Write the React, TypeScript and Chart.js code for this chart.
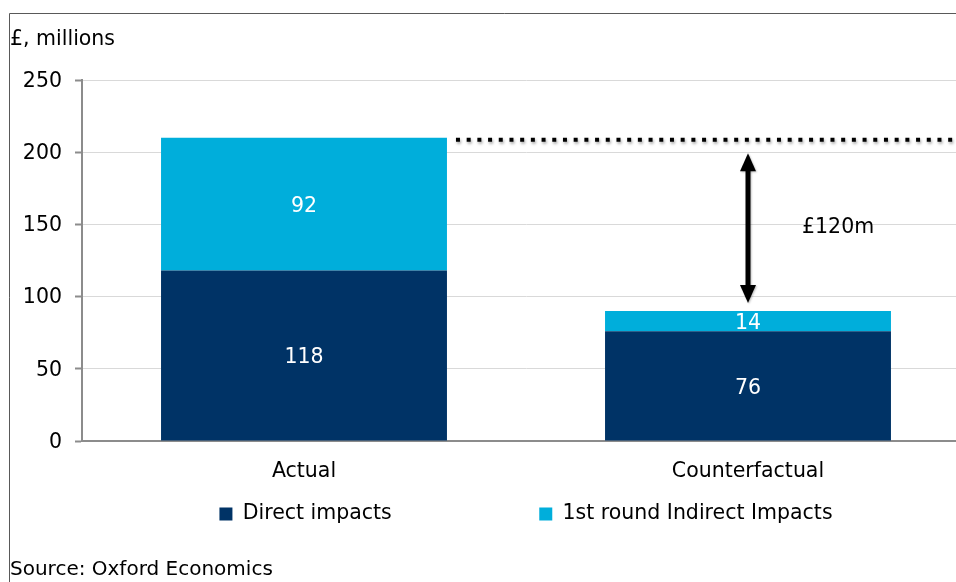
import React, { useEffect, useRef } from "react";
import { Chart, registerables } from "chart.js";

Chart.register(...registerables);

// ---- data ----
const categories = ["Actual", "Counterfactual"];
const directImpacts = [118, 76];
const indirectImpacts = [92, 14];
const seriesNames = ["Direct impacts", "1st round Indirect Impacts"];
const yTickValues = [0, 50, 100, 150, 200, 250];
const unitLabel = "£, millions";
const sourceText = "Source: Oxford Economics";

// ---- style ----
const FONT = "'DejaVu Sans', 'Liberation Sans', Arial, sans-serif";
const FS = 20.5;
const DARK = "#003366";
const LIGHT = "#00AEDB";
const AXIS = "#8C8C8C";
const GRID = "#D9D9D9";
const CW = 1000;
const CH = 582;

const framePlugin = {
  id: "frame",
  beforeDraw(chart: any) {
    const ctx = chart.ctx;
    ctx.save();
    ctx.fillStyle = "#ffffff";
    ctx.fillRect(0, 0, chart.width, chart.height);
    ctx.strokeStyle = "#595959";
    ctx.lineWidth = 1;
    ctx.beginPath();
    ctx.moveTo(9.5, chart.height);
    ctx.lineTo(9.5, 13.5);
    ctx.lineTo(chart.width, 13.5);
    ctx.stroke();
    ctx.restore();
  },
};

const barLabelPlugin = {
  id: "barLabels",
  afterDatasetsDraw(chart: any) {
    const ctx = chart.ctx;
    ctx.save();
    ctx.fillStyle = "#ffffff";
    ctx.font = `${FS}px ${FONT}`;
    ctx.textAlign = "center";
    ctx.textBaseline = "middle";
    chart.data.datasets.forEach((ds: any, di: number) => {
      const meta = chart.getDatasetMeta(di);
      meta.data.forEach((bar: any, i: number) => {
        const p = bar.getProps(["x", "y", "base"], true);
        ctx.fillText(String(ds.data[i]), p.x, (p.y + p.base) / 2 + 2.5);
      });
    });
    ctx.restore();
  },
};

const gapPlugin = {
  id: "gapAnnotation",
  afterDatasetsDraw(chart: any) {
    const ctx = chart.ctx;
    const ys = chart.scales.y;
    const top = chart.getDatasetMeta(1).data;
    const actualBar = top[0];
    const cfBar = top[1];
    const actualTotal = directImpacts[0] + indirectImpacts[0];
    const cfTotal = directImpacts[1] + indirectImpacts[1];
    const yLine = ys.getPixelForValue(actualTotal) + 2;

    ctx.save();
    // dotted reference line with soft shadow
    ctx.shadowColor = "rgba(0,0,0,0.35)";
    ctx.shadowBlur = 3;
    ctx.shadowOffsetX = 1;
    ctx.shadowOffsetY = 2;
    ctx.strokeStyle = "#000000";
    ctx.lineWidth = 4;
    ctx.setLineDash([4, 6.7]);
    ctx.beginPath();
    ctx.moveTo(actualBar.x + actualBar.width / 2 + 9, yLine);
    ctx.lineTo(chart.chartArea.right, yLine);
    ctx.stroke();
    ctx.setLineDash([]);

    // double-headed arrow
    const ax = cfBar.x;
    const tipTop = yLine + 13.5;
    const tipBot = ys.getPixelForValue(cfTotal) - 8;
    const headLen = 18;
    const headHalf = 8;
    ctx.shadowBlur = 2;
    ctx.shadowOffsetX = 1;
    ctx.shadowOffsetY = 1;
    ctx.shadowColor = "rgba(0,0,0,0.25)";
    ctx.lineWidth = 5;
    ctx.beginPath();
    ctx.moveTo(ax, tipTop + headLen - 2);
    ctx.lineTo(ax, tipBot - headLen + 2);
    ctx.stroke();
    ctx.fillStyle = "#000000";
    ctx.beginPath();
    ctx.moveTo(ax, tipTop);
    ctx.lineTo(ax + headHalf, tipTop + headLen);
    ctx.lineTo(ax - headHalf, tipTop + headLen);
    ctx.closePath();
    ctx.fill();
    ctx.beginPath();
    ctx.moveTo(ax, tipBot);
    ctx.lineTo(ax + headHalf, tipBot - headLen);
    ctx.lineTo(ax - headHalf, tipBot - headLen);
    ctx.closePath();
    ctx.fill();

    // gap label
    ctx.shadowColor = "rgba(0,0,0,0)";
    ctx.font = `${FS}px ${FONT}`;
    ctx.textAlign = "left";
    ctx.textBaseline = "middle";
    ctx.fillText(`£${actualTotal - cfTotal}m`, ax + 54, (tipTop + tipBot) / 2);
    ctx.restore();
  },
};

export default function App() {
  const ref = useRef<HTMLCanvasElement>(null);

  useEffect(() => {
    if (!ref.current) return;
    const chart = new Chart(ref.current, {
      type: "bar",
      data: {
        labels: categories,
        datasets: [
          { label: seriesNames[0], data: directImpacts, backgroundColor: DARK, borderWidth: 0 },
          { label: seriesNames[1], data: indirectImpacts, backgroundColor: LIGHT, borderWidth: 0 },
        ],
      },
      options: {
        responsive: false,
        animation: false,
        devicePixelRatio: 1,
        layout: { padding: { left: 10, right: 30, top: 0, bottom: 0 } },
        datasets: { bar: { categoryPercentage: 1, barPercentage: 0.644 } },
        scales: {
          x: {
            stacked: true,
            grid: { display: false, drawTicks: false },
            border: { display: true, color: AXIS, width: 2 },
            ticks: { color: "#000", font: { family: FONT, size: FS }, padding: 18.4 },
            afterFit: (s: any) => {
              s.height = 43;
            },
          },
          y: {
            stacked: true,
            min: 0,
            max: 250,
            afterBuildTicks: (s: any) => {
              s.ticks = yTickValues.map((v) => ({ value: v }));
            },
            ticks: { color: "#000", font: { family: FONT, size: FS }, padding: 13, labelOffset: 1.5 },
            grid: {
              color: (c: any) => (c.tick && c.tick.value === 0 ? AXIS : GRID),
              lineWidth: 1,
              tickLength: 7,
              tickColor: AXIS,
              tickWidth: 2,
            },
            border: { color: AXIS, width: 2 },
            afterFit: (s: any) => {
              s.width = 72;
            },
          },
        },
        plugins: {
          title: {
            display: true,
            text: unitLabel,
            align: "start",
            position: "top",
            color: "#000",
            font: { family: FONT, size: FS, weight: "normal" },
            padding: { top: 27.2, bottom: 28.2 },
          },
          subtitle: {
            display: true,
            text: sourceText,
            align: "start",
            position: "bottom",
            color: "#000",
            font: { family: FONT, size: 20, weight: "normal" },
            padding: { top: 23.75, bottom: 0 },
          },
          legend: {
            display: true,
            position: "bottom",
            fullSize: false,
            labels: {
              boxWidth: 13,
              boxHeight: 13,
              padding: 19.75,
              color: "#000",
              font: { family: FONT, size: FS },
              generateLabels: (c: any) => {
                const items = (Chart.defaults as any).plugins.legend.labels.generateLabels(c);
                items.forEach((it: any) => {
                  it.lineWidth = 0;
                  it.strokeStyle = "rgba(0,0,0,0)";
                });
                // invisible gap between the two legend entries
                const spacer = {
                  text: " ".repeat(13),
                  fillStyle: "rgba(0,0,0,0)",
                  strokeStyle: "rgba(0,0,0,0)",
                  fontColor: "rgba(0,0,0,0)",
                  lineWidth: 0,
                  hidden: false,
                };
                return [items[0], spacer, items[1]];
              },
            },
          },
          tooltip: { enabled: false },
        },
      } as any,
      plugins: [framePlugin, barLabelPlugin, gapPlugin],
    });
    return () => chart.destroy();
  }, []);

  return (
    <div
      style={{
        position: "fixed",
        left: 0,
        top: 0,
        width: 956,
        height: 582,
        overflow: "hidden",
        background: "#fff",
      }}
    >
      <canvas ref={ref} width={CW} height={CH} style={{ display: "block", width: CW, height: CH }} />
    </div>
  );
}
